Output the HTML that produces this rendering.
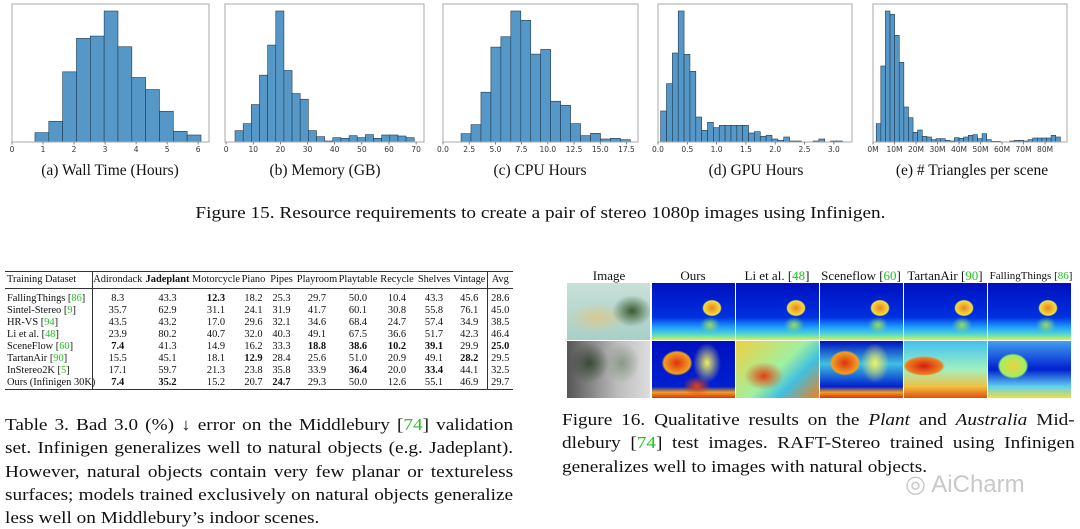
<!DOCTYPE html>
<html><head><meta charset="utf-8">
<style>
body{margin:0;width:1080px;height:529px;background:#fff;position:relative;overflow:hidden;font-family:"Liberation Serif",serif;color:#111}
.abs{position:absolute}
.sub{position:absolute;top:162px;font-size:15.5px;text-align:center;width:220px}
.cap{position:absolute;font-size:16.6px;line-height:23.3px;transform:scaleX(1.16);transform-origin:0 0}
.cap div{text-align:justify;text-align-last:justify;white-space:nowrap;height:23.3px}
.cap div.last{text-align-last:left}
.g{color:#1fc41f}
table{position:absolute;left:5px;top:271px;border-collapse:collapse;font-size:10.4px;table-layout:fixed;width:508px;border-top:1.5px solid #333;border-bottom:1.5px solid #333}
td,th{padding:0;text-align:center;white-space:nowrap;font-weight:normal;height:12px;line-height:12px}
th{height:16px;line-height:16px;border-bottom:1px solid #333}
tr.f td{padding-top:4px}
td:first-child,th:first-child{text-align:left;padding-left:2px;border-right:1px solid #333}
td:last-child,th:last-child{border-left:1px solid #333}
b{font-weight:bold}
.h16{position:absolute;top:268px;font-size:13px;text-align:center;width:84px}
.im{position:absolute;width:83px;height:57px;overflow:hidden}
</style></head><body>
<svg id="hists" class="abs" style="left:0;top:0" width="1080" height="160"></svg>

<div class="sub" style="left:0px">(a) Wall Time (Hours)</div>
<div class="sub" style="left:215px">(b) Memory (GB)</div>
<div class="sub" style="left:430px">(c) CPU Hours</div>
<div class="sub" style="left:646px">(d) GPU Hours</div>
<div class="sub" style="left:862px">(e) # Triangles per scene</div>
<div class="abs" style="left:0;width:1080px;top:203px;text-align:center;font-size:16.6px"><span style="display:inline-block;transform:scaleX(1.16)">Figure 15. Resource requirements to create a pair of stereo 1080p images using Infinigen.</span></div>

<table>
<colgroup><col style="width:87px"><col style="width:51px"><col style="width:49px"><col style="width:48px"><col style="width:27px"><col style="width:29px"><col style="width:42px"><col style="width:40px"><col style="width:38px"><col style="width:36px"><col style="width:35px"><col style="width:26px"></colgroup>
<tr><th>Training Dataset</th><th>Adirondack</th><th><b>Jadeplant</b></th><th>Motorcycle</th><th>Piano</th><th>Pipes</th><th>Playroom</th><th>Playtable</th><th>Recycle</th><th>Shelves</th><th>Vintage</th><th>Avg</th></tr>
<tr class="f"><td>FallingThings [<span class="g">86</span>]</td><td>8.3</td><td>43.3</td><td><b>12.3</b></td><td>18.2</td><td>25.3</td><td>29.7</td><td>50.0</td><td>10.4</td><td>43.3</td><td>45.6</td><td>28.6</td></tr>
<tr><td>Sintel-Stereo [<span class="g">9</span>]</td><td>35.7</td><td>62.9</td><td>31.1</td><td>24.1</td><td>31.9</td><td>41.7</td><td>60.1</td><td>30.8</td><td>55.8</td><td>76.1</td><td>45.0</td></tr>
<tr><td>HR-VS [<span class="g">94</span>]</td><td>43.5</td><td>43.2</td><td>17.0</td><td>29.6</td><td>32.1</td><td>34.6</td><td>68.4</td><td>24.7</td><td>57.4</td><td>34.9</td><td>38.5</td></tr>
<tr><td>Li et al. [<span class="g">48</span>]</td><td>23.9</td><td>80.2</td><td>40.7</td><td>32.0</td><td>40.3</td><td>49.1</td><td>67.5</td><td>36.6</td><td>51.7</td><td>42.3</td><td>46.4</td></tr>
<tr><td>SceneFlow [<span class="g">60</span>]</td><td><b>7.4</b></td><td>41.3</td><td>14.9</td><td>16.2</td><td>33.3</td><td><b>18.8</b></td><td><b>38.6</b></td><td><b>10.2</b></td><td><b>39.1</b></td><td>29.9</td><td><b>25.0</b></td></tr>
<tr><td>TartanAir [<span class="g">90</span>]</td><td>15.5</td><td>45.1</td><td>18.1</td><td><b>12.9</b></td><td>28.4</td><td>25.6</td><td>51.0</td><td>20.9</td><td>49.1</td><td><b>28.2</b></td><td>29.5</td></tr>
<tr><td>InStereo2K [<span class="g">5</span>]</td><td>17.1</td><td>59.7</td><td>21.3</td><td>23.8</td><td>35.8</td><td>33.9</td><td><b>36.4</b></td><td>20.0</td><td><b>33.4</b></td><td>44.1</td><td>32.5</td></tr>
<tr><td>Ours (Infinigen 30K)</td><td><b>7.4</b></td><td><b>35.2</b></td><td>15.2</td><td>20.7</td><td><b>24.7</b></td><td>29.3</td><td>50.0</td><td>12.6</td><td>55.1</td><td>46.9</td><td>29.7</td></tr>
</table>

<div class="h16" style="left:567px">Image</div>
<div class="h16" style="left:651px">Ours</div>
<div class="h16" style="left:735px">Li et al. [<span class="g">48</span>]</div>
<div class="h16" style="left:819px">Sceneflow [<span class="g">60</span>]</div>
<div class="h16" style="left:903px">TartanAir [<span class="g">90</span>]</div>
<div class="h16" style="left:987px;font-size:11px;top:270px;width:88px">FallingThings [<span class="g">86</span>]</div>

<div class="im" style="left:567px;top:283px;background:radial-gradient(ellipse 20px 16px at 65px 28px,#3a5a30,transparent),radial-gradient(ellipse 30px 15px at 30px 35px,#d8c890,transparent),linear-gradient(#c8e0d8,#a8d0c8)"></div>
<div class="im" style="left:567px;top:341px;background:radial-gradient(ellipse 20px 20px at 22px 22px,#3a4a38,transparent),radial-gradient(ellipse 18px 20px at 55px 22px,#8a9a8a,transparent),linear-gradient(90deg,#555,#bbb 60%,#ddd)"></div>
<div id="maps"></div>

<div class="cap" style="left:5px;top:413px;width:438px">
<div>Table 3. Bad 3.0 (%) ↓ error on the Middlebury [<span class="g">74</span>] validation</div>
<div>set. Infinigen generalizes well to natural objects (e.g. Jadeplant).</div>
<div>However, natural objects contain very few planar or textureless</div>
<div>surfaces; models trained exclusively on natural objects generalize</div>
<div class="last">less well on Middlebury’s indoor scenes.</div>
</div>
<div class="cap" style="left:562px;top:408px;width:442px">
<div>Figure 16. Qualitative results on the <i>Plant</i> and <i>Australia</i> Mid-</div>
<div>dlebury [<span class="g">74</span>] test images. RAFT-Stereo trained using Infinigen</div>
<div class="last">generalizes well to images with natural objects.</div>
</div>
<div class="abs" style="left:905px;top:470px;font-family:'Liberation Sans',sans-serif;font-size:24px;color:#c8c8c8">◎ AiCharm</div>

<script>
const aCounts=[28,62,210,310,317,392,285,193,157,92,32,21];
const bCounts=[34,55,112,200,290,392,214,145,128,34,16,3,13,11,19,13,22,11,21,21,18,13];
const cCounts=[25,52,149,284,315,392,364,263,277,122,110,55,19,26,9,11,7];
const dCounts=[93,175,267,393,263,212,75,35,59,43,50,50,50,50,50,27,31,17,20,9,5,15,3,3,0,0,3,9,0,3,3];
const eCounts=[55,228,393,383,320,239,105,73,29,36,17,15,7,10,10,5,3,13,11,15,20,22,10,25,7,2,2,0,0,3,5,5,3,7,12,12,12,12,20,15];
const aTicks=["0","1","2","3","4","5","6"];
const bTicks=["0","10","20","30","40","50","60","70"];
const cTicks=["0.0","2.5","5.0","7.5","10.0","12.5","15.0","17.5"];
const dTicks=["0.0","0.5","1.0","1.5","2.0","2.5","3.0"];
const eTicks=["0M","10M","20M","30M","40M","50M","60M","70M","80M"];
const svg=document.getElementById('hists');
const NS='http://www.w3.org/2000/svg';
function panel(name,x0,x1,xmin,xmax,start,width,counts,ticks,tickStep,tickVal){
  const top=4,bot=142;
  const maxC=Math.max(...counts);
  const X=v=>x0+(v-xmin)/(xmax-xmin)*(x1-x0);
  const Y=c=>bot-c/maxC*131;
  const g=document.createElementNS(NS,'g');
  
  
  svg.appendChild(g);
  counts.forEach((c,i)=>{
    if(c<=0)return;
    const r=document.createElementNS(NS,'rect');
    
    
    const xa=X(start+i*width),xb=X(start+(i+1)*width);
    r.setAttribute('x',xa);r.setAttribute('width',xb-xa);
    r.setAttribute('y',Y(c));r.setAttribute('height',bot-Y(c));
    r.setAttribute('fill','#5598c8');r.setAttribute('stroke','#1f3a52');r.setAttribute('stroke-width','0.6');
    g.appendChild(r);
  });
  const fr=document.createElementNS(NS,'rect');
  
  
  fr.setAttribute('x',x0);fr.setAttribute('y',top);fr.setAttribute('width',x1-x0);fr.setAttribute('height',bot-top);
  fr.setAttribute('fill','none');fr.setAttribute('stroke','#aaa');fr.setAttribute('stroke-width','1');
  g.appendChild(fr);
  ticks.forEach((t,i)=>{
    const v=tickVal+i*tickStep,x=X(v);
    const l=document.createElementNS(NS,'line');
    
    
    l.setAttribute('x1',x);l.setAttribute('x2',x);l.setAttribute('y1',bot);l.setAttribute('y2',bot+2.5);
    l.setAttribute('stroke','#555');l.setAttribute('stroke-width','0.7');g.appendChild(l);
    const tx=document.createElementNS(NS,'text');
    
    
    tx.setAttribute('x',x);tx.setAttribute('y',bot+10);tx.setAttribute('text-anchor','middle');
    tx.setAttribute('font-size','7.5');tx.setAttribute('fill','#333');tx.setAttribute('font-family','DejaVu Sans, sans-serif');
    tx.textContent=t;g.appendChild(tx);
  });
}
panel('wall-time-histogram',12,209,0,6.35,0.74,0.446,aCounts,aTicks,1,0);
panel('memory-histogram',225,424,-0.4,72.9,3.3,3.0,bCounts,bTicks,10,0);
panel('cpu-hours-histogram',443,638,0,18.6,1.72,0.95,cCounts,cTicks,2.5,0);
panel('gpu-hours-histogram',658,852,0,3.31,0.045,0.1,dCounts,dTicks,0.5,0);
panel('triangles-histogram',873,1067,0,90.2,1.5,2.14,eCounts,eTicks,10,0);

const maps=document.getElementById('maps');
const row1='radial-gradient(ellipse 14px 12px at 60px 25px,#f08020,#f0e040 60%,transparent 70%),radial-gradient(ellipse 10px 8px at 58px 42px,#90e060,transparent),linear-gradient(#0010c0 0%,#0030e0 60%,#20a0ff 78%,#60e0c0 92%,#e0f040)';
const row2=['radial-gradient(ellipse 22px 18px at 25px 22px,#e03010,#f0a020 60%,transparent 70%),radial-gradient(ellipse 14px 20px at 55px 22px,#f0f060,transparent),radial-gradient(ellipse 14px 10px at 45px 45px,#e04010,transparent),linear-gradient(#0010c0 0%,#0020d0 80%,#f0a020 90%,#e03010)',
'radial-gradient(ellipse 20px 14px at 28px 35px,#e04010,transparent),linear-gradient(135deg,#f0d040,#a0f0a0 50%,#40c0e0 70%,#f08020)',
'radial-gradient(ellipse 22px 18px at 25px 22px,#e03010,#f0a020 60%,transparent 70%),radial-gradient(ellipse 14px 20px at 55px 22px,#f0f060,transparent),linear-gradient(#0010c0,#40c0e0 40%,#0020d0 80%,#f0a020 90%,#e03010)',
'radial-gradient(ellipse 30px 14px at 20px 25px,#d02010,#f08020 60%,transparent 70%),linear-gradient(#40c0f0,#a0f0c0 50%,#f0c040 80%,#e05010)',
'radial-gradient(ellipse 22px 18px at 25px 25px,#f0d040,#a0f060 60%,transparent 70%),linear-gradient(#40a0f0,#0020d0 50%,#60d0f0 80%,#f0e040)'];
for(let i=0;i<5;i++){
  const a=document.createElement('div');
  
  
  a.className='im';a.style.left=(652+i*84)+'px';a.style.top='283px';a.style.background=row1;maps.appendChild(a);
  const b=document.createElement('div');
  
  
  b.className='im';b.style.left=(652+i*84)+'px';b.style.top='341px';b.style.background=row2[i];maps.appendChild(b);
}
</script>
</body></html>
